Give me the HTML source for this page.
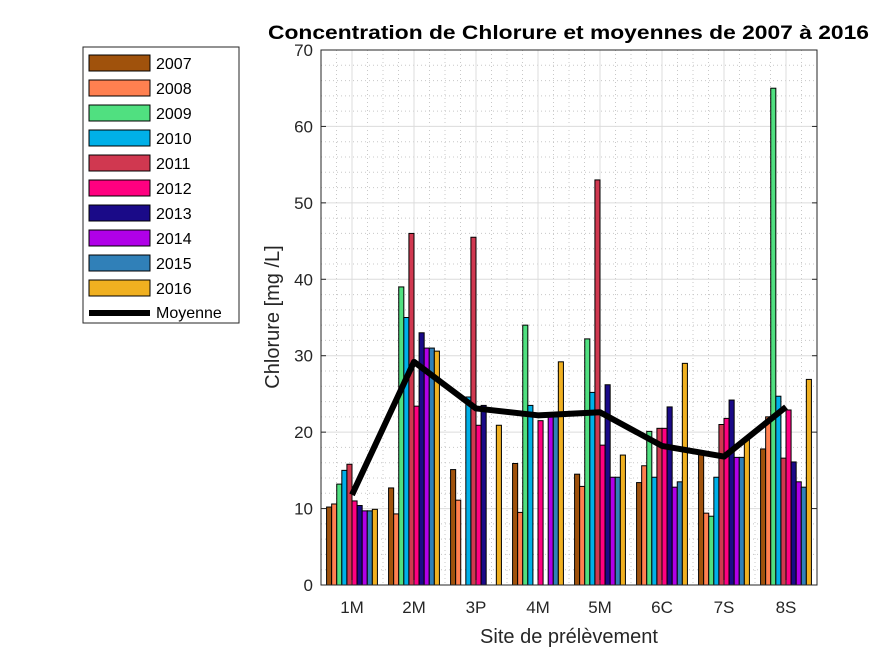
<!DOCTYPE html>
<html><head><meta charset="utf-8"><style>
body{margin:0;background:#fff;}
svg text{font-family:"Liberation Sans",Arial,sans-serif;}
</style></head><body>
<svg id="chart" width="875" height="656" viewBox="0 0 875 656">
<rect width="875" height="656" fill="#fff"/>
<g id="grid"></g><g id="bars"></g><g id="line"></g><g id="axes"></g><g id="legend"></g>
</svg>
<script>
const categories=["1M","2M","3P","4M","5M","6C","7S","8S"];
const years=["2007","2008","2009","2010","2011","2012","2013","2014","2015","2016"];
const colors=["#a0520c","#ff8050","#50e080","#00b0e8","#d03850","#ff0080","#1a0a88","#b000e8","#3080b8","#f0b020"];
const v2007=[10.2,12.7,15.1,15.9,14.5,13.4,17.1,17.8];
const v2008=[10.6,9.3,11.1,9.5,12.9,15.6,9.4,22];
const v2009=[13.2,39,0,34,32.2,20.1,9.0,65];
const v2010=[15,35,24.6,23.5,25.2,14.1,14.1,24.7];
const v2011=[15.8,46,45.5,0,53,20.5,21,16.6];
const v2012=[11,23.4,20.9,21.5,18.3,20.5,21.8,22.9];
const v2013=[10.4,33,23.5,0,26.2,23.3,24.2,16.1];
const v2014=[9.7,31,0,22.0,14.1,12.8,16.7,13.5];
const v2015=[9.7,31,0,22.0,14.1,13.5,16.7,12.8];
const v2016=[9.9,30.6,20.9,29.2,17,29,19,26.9];
const series=[v2007,v2008,v2009,v2010,v2011,v2012,v2013,v2014,v2015,v2016];
const means=[11.8,29.2,23.1,22.2,22.6,18.2,16.8,23.3];
const yTicks=[0,10,20,30,40,50,60,70];

const NS="http://www.w3.org/2000/svg";
const L=321,R=817,T=50,B=585,yMax=70;
const xs=i=>L+(i+0.5)*(R-L)/categories.length;
const ys=v=>B-(v/yMax)*(B-T);
function mk(tag,attrs,parent){const e=document.createElementNS(NS,tag);for(const k in attrs)e.setAttribute(k,attrs[k]);parent.appendChild(e);return e;}
const grid=document.getElementById('grid'),bars=document.getElementById('bars'),line=document.getElementById('line'),axes=document.getElementById('axes'),legend=document.getElementById('legend');
for(let v=2;v<yMax;v+=2){if(v%10===0)continue;mk('line',{x1:L,x2:R,y1:ys(v),y2:ys(v),stroke:'#c8c8c8','stroke-width':1,'stroke-dasharray':'1,3'},grid);}
for(let i=0;i<categories.length;i++){for(const d of [-0.25,0.25,0.5]){const x=xs(i)+d*(R-L)/categories.length;if(x>=R)continue;mk('line',{x1:x,x2:x,y1:T,y2:B,stroke:'#c8c8c8','stroke-width':1,'stroke-dasharray':'1,3'},grid);}}
yTicks.forEach(v=>{if(v>0&&v<yMax)mk('line',{x1:L,x2:R,y1:ys(v),y2:ys(v),stroke:'#dcdcdc','stroke-width':1},grid);});
categories.forEach((c,i)=>mk('line',{x1:xs(i),x2:xs(i),y1:T,y2:B,stroke:'#dcdcdc','stroke-width':1},grid));
const gw=(R-L)/categories.length*0.82,bw=gw/years.length;
series.forEach((s,k)=>{s.forEach((v,i)=>{if(v<=0)return;const x=xs(i)-gw/2+k*bw;
const r=mk('rect',{x:x,y:ys(v),width:bw,height:B-ys(v),fill:colors[k],stroke:'#000','stroke-width':1},bars);

});});
const p=mk('polyline',{points:means.map((m,i)=>xs(i)+','+ys(m)).join(' '),fill:'none',stroke:'#000','stroke-width':6,'stroke-linejoin':'round'},line);


mk('rect',{x:L,y:T,width:R-L,height:B-T,fill:'none',stroke:'#262626','stroke-width':1},axes);
yTicks.forEach(v=>{mk('line',{x1:L,x2:L+5,y1:ys(v),y2:ys(v),stroke:'#262626'},axes);mk('line',{x1:R,x2:R-5,y1:ys(v),y2:ys(v),stroke:'#262626'},axes);
const t=mk('text',{x:L-8,y:ys(v)+6,'text-anchor':'end','font-size':17,fill:'#262626'},axes);t.textContent=v;

});
categories.forEach((c,i)=>{mk('line',{x1:xs(i),x2:xs(i),y1:B,y2:B-5,stroke:'#262626'},axes);
const t=mk('text',{x:xs(i),y:B+28,'text-anchor':'middle','font-size':17,fill:'#262626'},axes);t.textContent=c;

});
let t=mk('text',{x:268,y:39,'font-size':19,'font-weight':'bold',fill:'#000',textLength:601,lengthAdjust:'spacingAndGlyphs'},axes);t.textContent='Concentration de Chlorure et moyennes de 2007 à 2016';


t=mk('text',{x:569,y:643,'text-anchor':'middle','font-size':20,fill:'#262626'},axes);t.textContent='Site de prélèvement';


t=mk('text',{x:0,y:0,'text-anchor':'middle','font-size':20,fill:'#262626',transform:'translate(279,317) rotate(-90)'},axes);t.textContent='Chlorure [mg /L]';


mk('rect',{x:83,y:47,width:156,height:276,fill:'#fff',stroke:'#262626','stroke-width':1},legend);
years.forEach((y,k)=>{const cy=63+k*25;
const sw=mk('rect',{x:89,y:cy-8,width:61,height:16,fill:colors[k],stroke:'#000','stroke-width':1},legend);


const tx=mk('text',{x:156,y:cy+6,'font-size':16,fill:'#000'},legend);tx.textContent=y;

});
mk('line',{x1:89,x2:150,y1:313,y2:313,stroke:'#000','stroke-width':6},legend);
t=mk('text',{x:156,y:318,'font-size':16,fill:'#000'},legend);t.textContent='Moyenne';


</script>
</body></html>
